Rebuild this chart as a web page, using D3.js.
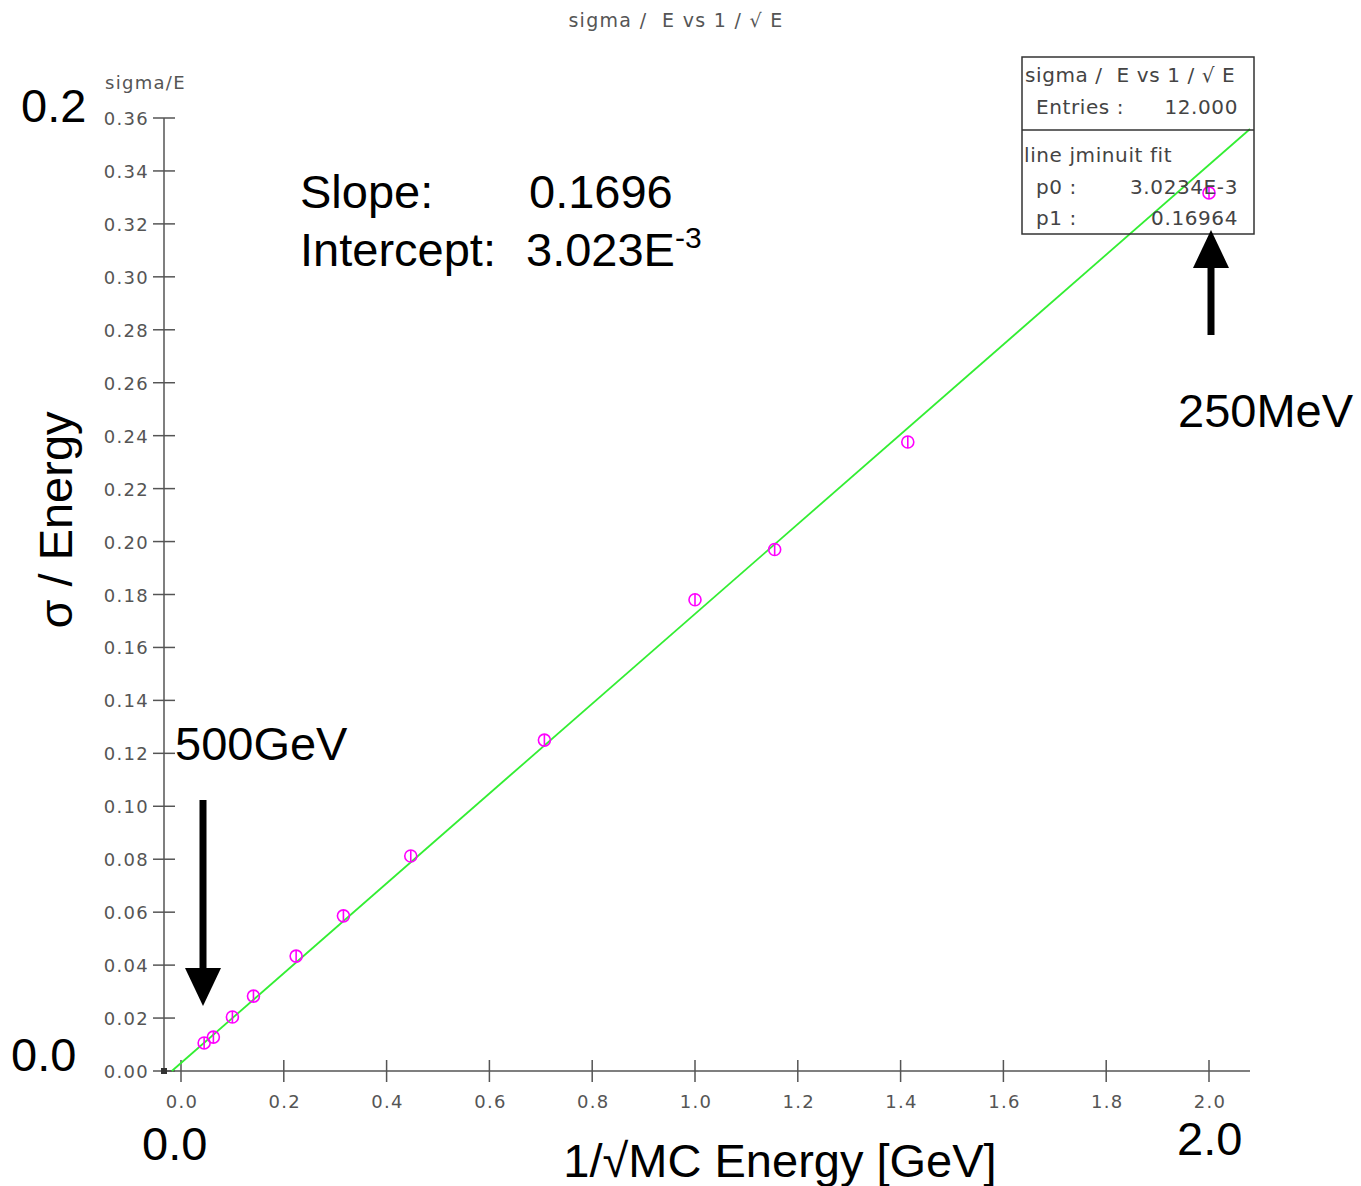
<!DOCTYPE html>
<html>
<head>
<meta charset="utf-8">
<script src="https://cdn.jsdelivr.net/npm/d3@7"></script>
<style>
  body { margin: 0; background: #fff; }
  svg text { font-family: "DejaVu Sans", sans-serif; white-space: pre; }
  .big { font-family: "Liberation Sans", Arial, sans-serif !important; fill: #000; }
</style>
</head>
<body>
<div id="chart"></div>
<script>
// values
const inv_sqrt_e = [0.045, 0.063, 0.1, 0.141, 0.224, 0.316, 0.447, 0.707, 1.0, 1.155, 1.414, 2.0];
const sigma_over_e = [0.0106, 0.0128, 0.0204, 0.0283, 0.0434, 0.0586, 0.0812, 0.125, 0.178, 0.197, 0.2376, 0.3317];
const fit_p0 = 3.0234e-3;
const fit_p1 = 0.16964;
const x_ticks = [0.0, 0.2, 0.4, 0.6, 0.8, 1.0, 1.2, 1.4, 1.6, 1.8, 2.0];
const y_ticks = d3.range(0, 0.3601, 0.02);

const W = 1361, H = 1186;
const x0 = 164, y0 = 1071;

const svg = d3.select('#chart').append('svg')
  .attr('width', W).attr('height', H);

const x_scale = d3.scaleLinear().domain([0, 2]).range([181, 1209]);
const y_scale = d3.scaleLinear().domain([0, 0.36]).range([y0, 118]);
const x_end = x_scale.invert(1250);

// small grey labels
const small = (sel, size) => sel.attr('font-size', size || 18).attr('fill', '#555')
  .attr('letter-spacing', 1.3);

small(svg.append('text').attr('x', 676).attr('y', 27).attr('text-anchor', 'middle'), 19)
  .text('sigma /  E vs 1 / \u221A E');
small(svg.append('text').attr('x', 105).attr('y', 89), 18).text('sigma/E');

// axes, ticks cross the axis line
const axis_col = '#555';
svg.append('line').attr('x1', x0).attr('x2', x0).attr('y1', y_scale(0.36)).attr('y2', y0)
  .attr('stroke', axis_col).attr('stroke-width', 1.5);
svg.append('line').attr('x1', x0).attr('x2', 1250).attr('y1', y0).attr('y2', y0)
  .attr('stroke', axis_col).attr('stroke-width', 1.5);

const yt = svg.append('g').attr('class', 'y axis');
yt.selectAll('line').data(y_ticks).join('line')
  .attr('x1', x0 - 11).attr('x2', x0 + 11)
  .attr('y1', d => y_scale(d)).attr('y2', d => y_scale(d))
  .attr('stroke', axis_col).attr('stroke-width', 1.5);
small(yt.selectAll('text').data(y_ticks).join('text')
  .attr('x', 149).attr('y', d => y_scale(d) + 7)
  .attr('text-anchor', 'end'), 18)
  .text(d3.format('.2f'));

const xt = svg.append('g').attr('class', 'x axis');
xt.selectAll('line').data(x_ticks).join('line')
  .attr('x1', d => x_scale(d)).attr('x2', d => x_scale(d))
  .attr('y1', y0 - 11).attr('y2', y0 + 11)
  .attr('stroke', axis_col).attr('stroke-width', 1.5);
small(xt.selectAll('text').data(x_ticks).join('text')
  .attr('x', d => x_scale(d) + 1).attr('y', 1108)
  .attr('text-anchor', 'middle'), 18)
  .text(d3.format('.1f'));

svg.append('rect').attr('x', x0 - 3).attr('y', y0 - 3).attr('width', 6).attr('height', 6).attr('fill', '#333');

// fit line
const x_start = -fit_p0 / fit_p1;
svg.append('line')
  .attr('x1', x_scale(x_start)).attr('y1', y_scale(fit_p0 + fit_p1 * x_start))
  .attr('x2', x_scale(x_end)).attr('y2', y_scale(fit_p0 + fit_p1 * x_end))
  .attr('stroke', '#33ee33').attr('stroke-width', 1.8);

// points
const pts = svg.append('g').selectAll('g')
  .data(inv_sqrt_e.map((x, i) => ({x, y: sigma_over_e[i]})))
  .join('g')
  .attr('transform', d => `translate(${x_scale(d.x)},${y_scale(d.y)})`);
pts.append('circle').attr('r', 6).attr('fill', 'none')
  .attr('stroke', '#ff00ff').attr('stroke-width', 1.6);
pts.append('line').attr('y1', -6).attr('y2', 6)
  .attr('stroke', '#ff00ff').attr('stroke-width', 1.6);

// stats box
const box = svg.append('g');
box.append('rect').attr('x', 1022).attr('y', 57).attr('width', 232).attr('height', 177)
  .attr('fill', 'none').attr('stroke', '#333').attr('stroke-width', 1.5);
box.append('line').attr('x1', 1022).attr('x2', 1254).attr('y1', 130).attr('y2', 130)
  .attr('stroke', '#333').attr('stroke-width', 1.5);
const bt = (x, y, t, anchor) => box.append('text').attr('x', x).attr('y', y)
  .attr('font-size', 20).attr('fill', '#444').attr('letter-spacing', 0.6)
  .attr('text-anchor', anchor || 'start').text(t);
bt(1025, 82, 'sigma /  E vs 1 / \u221A E');
bt(1036, 114, 'Entries :');
bt(1238, 114, '12.000', 'end');
bt(1024, 162, 'line jminuit fit');
bt(1036, 194, 'p0 :');
bt(1238, 194, '3.0234E-3', 'end');
bt(1036, 225, 'p1 :');
bt(1238, 225, '0.16964', 'end');

// annotations
const big = (x, y, t, anchor) => svg.append('text').attr('class', 'big')
  .attr('x', x).attr('y', y).attr('font-size', 47)
  .attr('text-anchor', anchor || 'start').text(t);
big(21, 122, '0.2');
big(11, 1071, '0.0');
big(142, 1160, '0.0');
big(1177, 1155, '2.0');
big(1178, 427, '250MeV');
big(175, 760, '500GeV');
big(300, 208, 'Slope:');
big(529, 208, '0.1696');
big(300, 266, 'Intercept:');
const ic = big(526, 266, '3.023E');
ic.append('tspan').attr('font-size', 30).attr('dy', -18).text('-3');
big(780, 1177, '1/\u221AMC Energy [GeV]', 'middle');
svg.append('text').attr('class', 'big').attr('font-size', 47)
  .attr('transform', 'translate(72,520) rotate(-90)').attr('text-anchor', 'middle')
  .text('\u03C3 / Energy');

// arrows
svg.append('line').attr('x1', 203).attr('x2', 203).attr('y1', 800).attr('y2', 972)
  .attr('stroke', '#000').attr('stroke-width', 7);
svg.append('path').attr('d', 'M185,968 L221,968 L203,1006 Z').attr('fill', '#000');
svg.append('line').attr('x1', 1211).attr('x2', 1211).attr('y1', 335).attr('y2', 265)
  .attr('stroke', '#000').attr('stroke-width', 7);
svg.append('path').attr('d', 'M1193,268 L1229,268 L1211,230 Z').attr('fill', '#000');
</script>
</body>
</html>
